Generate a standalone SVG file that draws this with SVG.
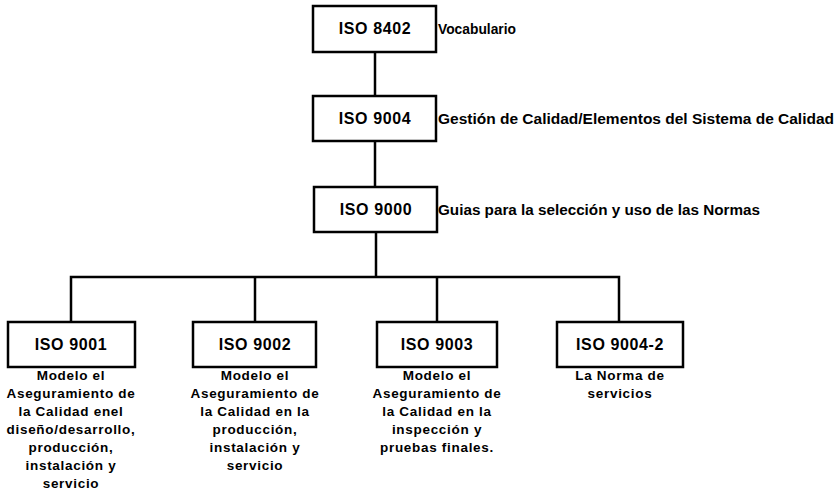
<svg xmlns="http://www.w3.org/2000/svg" width="839" height="490" viewBox="0 0 839 490">
<style>
.box{fill:#fff;stroke:#000;stroke-width:2.5}
.ln{stroke:#000;stroke-width:2.5;fill:none}
.t{font-family:"Liberation Sans",Arial,sans-serif;font-weight:bold;fill:#000}
.bx{font-size:16px;letter-spacing:0.6px;text-anchor:middle}
.lb{font-size:14px}
.d{font-size:13.5px;letter-spacing:0.7px;text-anchor:middle}
</style>
<rect width="839" height="490" fill="#fff"/>
<g id="connectors">
<line class="ln" x1="375" y1="52" x2="375" y2="96"/>
<line class="ln" x1="375" y1="141" x2="375" y2="187"/>
<line class="ln" x1="376" y1="232" x2="376" y2="277"/>
<polyline class="ln" points="71,322 71,277 619,277 619,322"/>
<line class="ln" x1="255" y1="277" x2="255" y2="322"/>
<line class="ln" x1="437" y1="277" x2="437" y2="322"/>
</g>
<g id="iso8402">
<rect class="box" x="313" y="6" width="123" height="46"/>
<text class="t bx" x="375" y="34">ISO 8402</text>
<text class="t lb" x="438" y="34" textLength="78" lengthAdjust="spacingAndGlyphs">Vocabulario</text>
</g>
<g id="iso9004">
<rect class="box" x="313" y="96" width="123" height="45"/>
<text class="t bx" x="375" y="124">ISO 9004</text>
<text class="t lb" x="438" y="124" textLength="396" lengthAdjust="spacingAndGlyphs">Gestión de Calidad/Elementos del Sistema de Calidad</text>
</g>
<g id="iso9000">
<rect class="box" x="314" y="187" width="123" height="45"/>
<text class="t bx" x="376" y="215">ISO 9000</text>
<text class="t lb" x="438" y="215" textLength="322" lengthAdjust="spacingAndGlyphs">Guias para la selección y uso de las Normas</text>
</g>
<g id="iso9001">
<rect class="box" x="8" y="322" width="127" height="45"/>
<text class="t bx" x="71" y="350">ISO 9001</text>
<text class="t d" x="71" y="380">Modelo el</text>
<text class="t d" x="71" y="398">Aseguramiento de</text>
<text class="t d" x="71" y="416">la Calidad enel</text>
<text class="t d" x="71" y="434">diseño/desarrollo,</text>
<text class="t d" x="71" y="452">producción,</text>
<text class="t d" x="71" y="470">instalación y</text>
<text class="t d" x="71" y="488">servicio</text>
</g>
<g id="iso9002">
<rect class="box" x="193" y="322" width="123" height="45"/>
<text class="t bx" x="255" y="350">ISO 9002</text>
<text class="t d" x="255" y="380">Modelo el</text>
<text class="t d" x="255" y="398">Aseguramiento de</text>
<text class="t d" x="255" y="416">la Calidad en la</text>
<text class="t d" x="255" y="434">producción,</text>
<text class="t d" x="255" y="452">instalación y</text>
<text class="t d" x="255" y="470">servicio</text>
</g>
<g id="iso9003">
<rect class="box" x="377" y="322" width="120" height="45"/>
<text class="t bx" x="437" y="350">ISO 9003</text>
<text class="t d" x="437" y="380">Modelo el</text>
<text class="t d" x="437" y="398">Aseguramiento de</text>
<text class="t d" x="437" y="416">la Calidad en la</text>
<text class="t d" x="437" y="434">inspección y</text>
<text class="t d" x="437" y="452">pruebas finales.</text>
</g>
<g id="iso9004-2">
<rect class="box" x="557" y="322" width="126" height="45"/>
<text class="t bx" x="620" y="350">ISO 9004-2</text>
<text class="t d" x="620" y="380">La Norma de</text>
<text class="t d" x="620" y="398">servicios</text>
</g>
</svg>
